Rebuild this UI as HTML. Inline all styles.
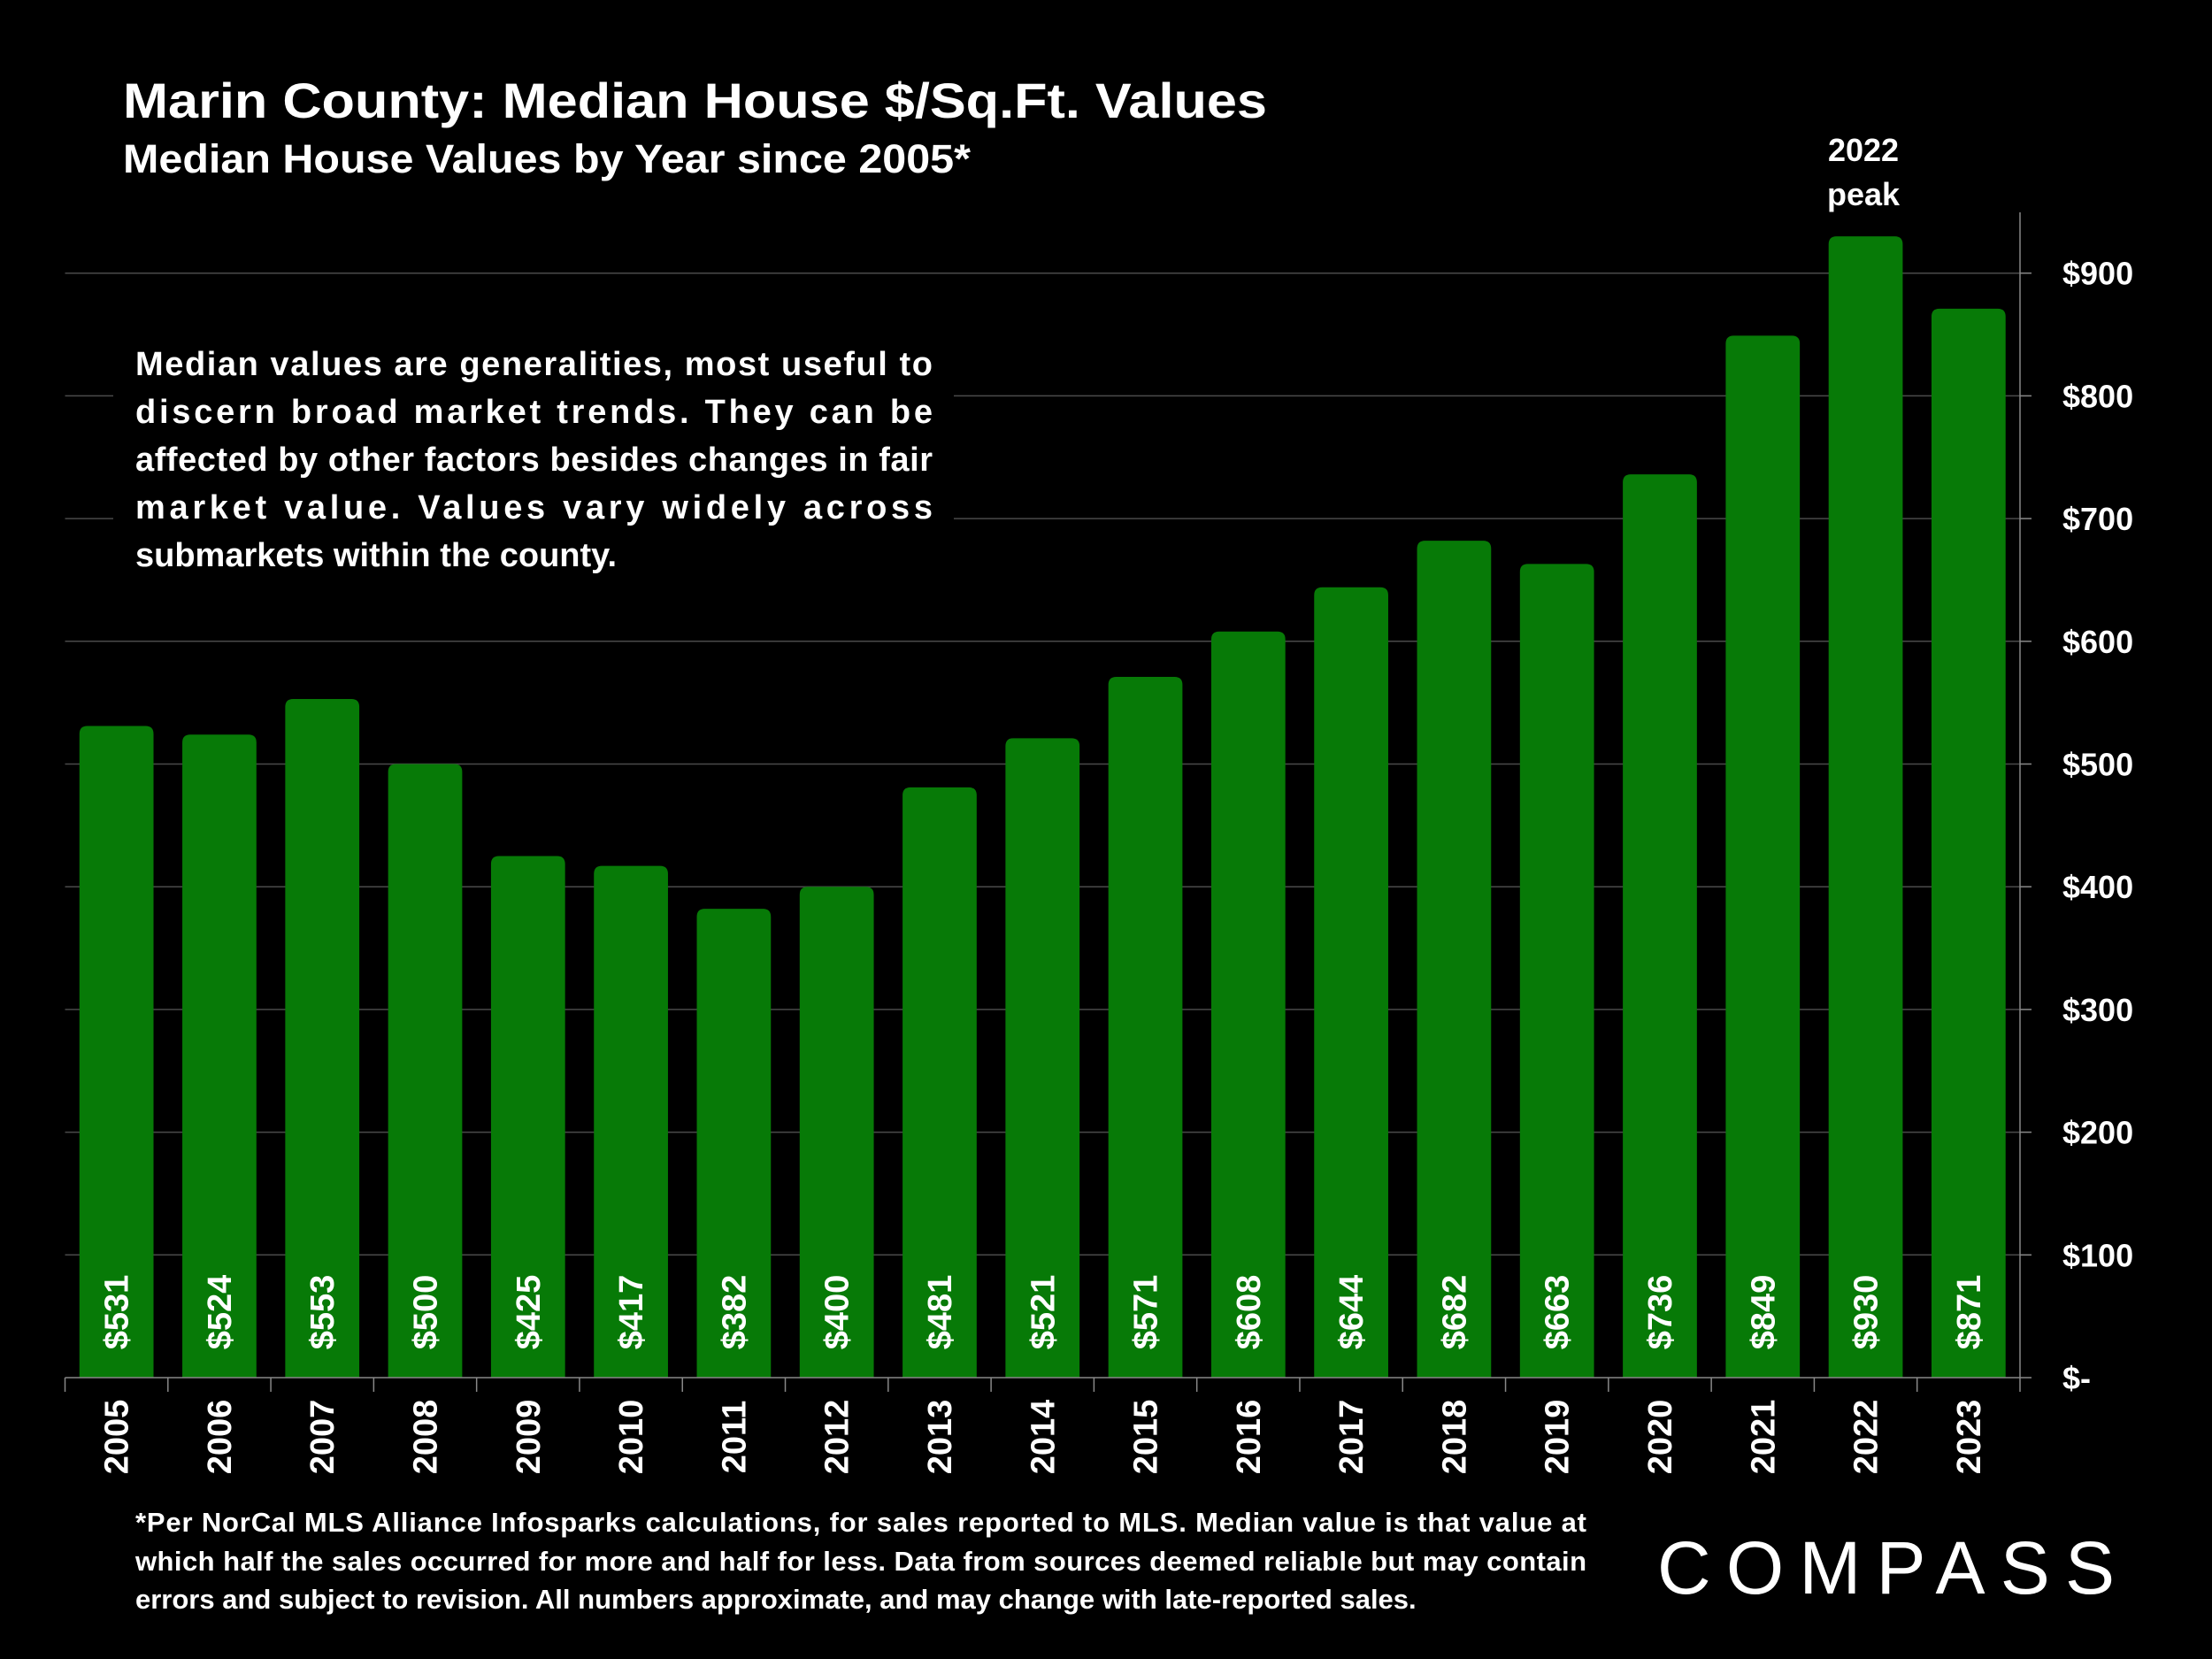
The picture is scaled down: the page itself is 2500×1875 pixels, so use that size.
<!DOCTYPE html>
<html><head><meta charset="utf-8"><style>
body{margin:0;background:#000;}
svg{display:block;}
text{font-family:"Liberation Sans",sans-serif;fill:#fff;}
</style></head><body>
<svg id="chart" width="2500" height="1875" viewBox="0 0 2500 1875" xmlns="http://www.w3.org/2000/svg">
<rect width="2500" height="1875" fill="#000"/>
<g id="grid"></g>
<g id="bars"></g>
<g id="axes"></g>
<rect x="128" y="378" width="950" height="280" fill="#000"/>
<text x="139" y="133" font-size="56" font-weight="bold" textLength="1293" lengthAdjust="spacingAndGlyphs">Marin County: Median House $/Sq.Ft. Values</text>
<text x="139" y="195" font-size="45" font-weight="bold" textLength="958" lengthAdjust="spacingAndGlyphs">Median House Values by Year since 2005*</text>
<g font-size="38" font-weight="bold">
<text x="153" y="424" textLength="901" lengthAdjust="spacing">Median values are generalities, most useful to</text>
<text x="153" y="478" textLength="901" lengthAdjust="spacing">discern broad market trends. They can be</text>
<text x="153" y="532" textLength="901" lengthAdjust="spacing">affected by other factors besides changes in fair</text>
<text x="153" y="586" textLength="901" lengthAdjust="spacing">market value. Values vary widely across</text>
<text x="153" y="640">submarkets within the county.</text>
</g>
<g font-size="31" font-weight="bold">
<text x="153" y="1731" textLength="1640" lengthAdjust="spacing">*Per NorCal MLS Alliance Infosparks calculations, for sales reported to MLS. Median value is that value at</text>
<text x="153" y="1775" textLength="1640" lengthAdjust="spacing">which half the sales occurred for more and half for less. Data from sources deemed reliable but may contain</text>
<text x="153" y="1818">errors and subject to revision. All numbers approximate, and may change with late-reported sales.</text>
</g>
<text x="1873" y="1801" font-size="84" letter-spacing="9" textLength="526" lengthAdjust="spacing">COMPASS</text>
<g font-size="36" font-weight="bold" text-anchor="middle">
<text x="2106" y="182">2022</text>
<text x="2106" y="232">peak</text>
</g>
</svg>
<script>
const years=["2005","2006","2007","2008","2009","2010","2011","2012","2013","2014","2015","2016","2017","2018","2019","2020","2021","2022","2023"];
const values=[531,524,553,500,425,417,382,400,481,521,571,608,644,682,663,736,849,930,871];
const yTicks=[0,100,200,300,400,500,600,700,800,900];
const yTickLabels=["$-","$100","$200","$300","$400","$500","$600","$700","$800","$900"];
const NS="http://www.w3.org/2000/svg";
const L=73.5,R=2283,B=1557,T=240;
const step=(R-L)/years.length;
const xS=i=>L+step*i;
const yS=v=>B-v*1.387;
function mk(tag,attrs,parent,txt){const e=document.createElementNS(NS,tag);for(const k in attrs)e.setAttribute(k,attrs[k]);if(txt!==undefined)e.textContent=txt;parent.appendChild(e);return e;}
const grid=document.getElementById('grid'),bars=document.getElementById('bars'),axes=document.getElementById('axes');
yTicks.forEach((t,i)=>{
  if(t>0){const g=mk('line',{x1:L,x2:R,y1:yS(t),y2:yS(t),stroke:'#4a4a4a','stroke-width':1.5},grid);
  
  }
  const tk=mk('line',{x1:R,x2:R+13,y1:yS(t),y2:yS(t),stroke:'#888','stroke-width':1.5},axes);
  
  
  const lb=mk('text',{x:2331,y:yS(t)+13,'font-size':36,'font-weight':'bold'},axes,yTickLabels[i]);
  
  
});
const ya=mk('line',{x1:R,x2:R,y1:T,y2:B,stroke:'#888','stroke-width':1.5},axes);


const xa=mk('line',{x1:L,x2:R,y1:B,y2:B,stroke:'#888','stroke-width':1.5},axes);


const bw=step*0.72;
years.forEach((yr,i)=>{
  const x0=xS(i)+(step-bw)/2, y0=yS(values[i]), r=9;
  const p=mk('path',{d:`M${x0},${B}V${y0+r}Q${x0},${y0} ${x0+r},${y0}H${x0+bw-r}Q${x0+bw},${y0} ${x0+bw},${y0+r}V${B}Z`,fill:'#077a07'},bars);
  
  
  const cx=xS(i)+step/2;
  const v=mk('text',{x:0,y:0,'font-size':38,'font-weight':'bold','text-anchor':'middle',transform:`translate(${cx+13},1483) rotate(-90)`},bars,'$'+values[i]);
  
  
  const tk=mk('line',{x1:xS(i),x2:xS(i),y1:B,y2:B+16,stroke:'#888','stroke-width':1.5},axes);
  
  
  const yl=mk('text',{x:0,y:0,'font-size':38,'font-weight':'bold','text-anchor':'middle',transform:`translate(${cx+13},1624) rotate(-90)`},axes,yr);
  
  
});
const tk2=mk('line',{x1:R,x2:R,y1:B,y2:B+16,stroke:'#888','stroke-width':1.5},axes);


</script>
</body></html>
